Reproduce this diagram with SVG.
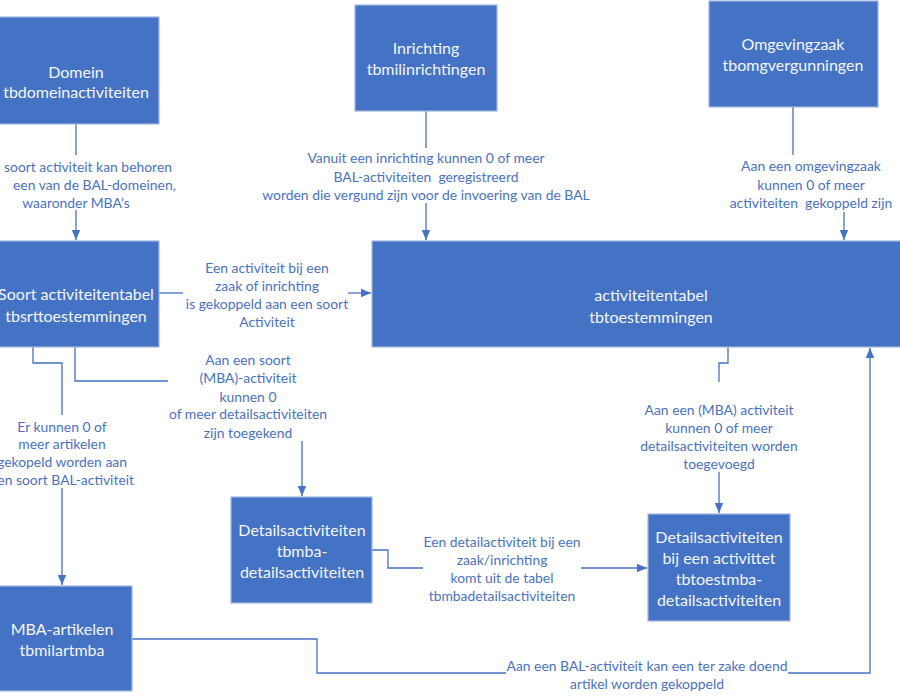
<svg xmlns="http://www.w3.org/2000/svg" width="900" height="700" viewBox="0 0 900 700">
<defs>
<marker id="arr" markerUnits="userSpaceOnUse" markerWidth="10" markerHeight="10" viewBox="0 0 10 10" refX="10" refY="5" orient="auto">
<path d="M0,0.8 L10,5 L0,9.2 Z" fill="#4472C4"/>
</marker>
<style>
.box{fill:#4472C4;stroke:#A3B6DD;stroke-width:1.2}
.bt{font-family:Lato,"Open Sans","Liberation Sans",sans-serif;font-size:16px;fill:#F4F6FB;text-anchor:middle;dominant-baseline:central}
.lt{font-family:Lato,"Open Sans","Liberation Sans",sans-serif;font-size:13.9px;fill:#4A72C2;text-anchor:middle;dominant-baseline:central;white-space:pre}
.ln{fill:none;stroke:#4472C4;stroke-width:1.3}
</style>
</defs>
<rect width="900" height="700" fill="#FFFFFF"/>

<g id="connectors">
<g id="c-domein-soort">
<path class="ln" d="M76,124 V155"/>
<path class="ln" d="M76,210 V240" marker-end="url(#arr)"/>
<text class="lt" x="4" y="166" style="text-anchor:start">soort activiteit kan behoren</text>
<text class="lt" x="13" y="184" style="text-anchor:start">een van de BAL-domeinen,</text>
<text class="lt" x="76" y="202">waaronder MBA’s</text>
</g>
<g id="c-inrichting-act">
<path class="ln" d="M426,111 V148"/>
<path class="ln" d="M426,203 V240" marker-end="url(#arr)"/>
<text class="lt" x="426" y="157">Vanuit een inrichting kunnen 0 of meer</text>
<text class="lt" x="426" y="176" xml:space="preserve">BAL-activiteiten  geregistreerd</text>
<text class="lt" x="426" y="194">worden die vergund zijn voor de invoering van de BAL</text>
</g>
<g id="c-omgeving-act">
<path class="ln" d="M793,107 V155"/>
<path class="ln" d="M844,212 V240" marker-end="url(#arr)"/>
<text class="lt" x="811" y="165">Aan een omgevingzaak</text>
<text class="lt" x="811" y="184">kunnen 0 of meer</text>
<text class="lt" x="811" y="202" xml:space="preserve">activiteiten  gekoppeld zijn</text>
</g>
<g id="c-soort-act">
<path class="ln" d="M159,293 H183"/>
<path class="ln" d="M348,293 H371" marker-end="url(#arr)"/>
<text class="lt" x="267" y="267">Een activiteit bij een</text>
<text class="lt" x="267" y="285">zaak of inrichting</text>
<text class="lt" x="267" y="303">is gekoppeld aan een soort</text>
<text class="lt" x="267" y="321">Activiteit</text>
</g>
<g id="c-soort-detail">
<path class="ln" d="M75,347 V381 H168"/>
<path class="ln" d="M302,441 V496" marker-end="url(#arr)"/>
<text class="lt" x="248" y="359">Aan een soort</text>
<text class="lt" x="248" y="377">(MBA)-activiteit</text>
<text class="lt" x="248" y="396">kunnen 0</text>
<text class="lt" x="248" y="413">of meer detailsactiviteiten</text>
<text class="lt" x="248" y="432">zijn toegekend</text>
</g>
<g id="c-soort-mba">
<path class="ln" d="M33,347 V363 H62 V415"/>
<path class="ln" d="M62,488 V585" marker-end="url(#arr)"/>
<text class="lt" x="62" y="426">Er kunnen 0 of</text>
<text class="lt" x="62" y="443">meer artikelen</text>
<text class="lt" x="62" y="461">gekopeld worden aan</text>
<text class="lt" x="62" y="479">een soort BAL-activiteit</text>
</g>
<g id="c-act-detailbij">
<path class="ln" d="M728,347 V363 H719 V382"/>
<path class="ln" d="M719,472 V513" marker-end="url(#arr)"/>
<text class="lt" x="719" y="409">Aan een (MBA) activiteit</text>
<text class="lt" x="719" y="427">kunnen 0 of meer</text>
<text class="lt" x="719" y="445">detailsactiviteiten worden</text>
<text class="lt" x="719" y="463">toegevoegd</text>
</g>
<g id="c-detail-detailbij">
<path class="ln" d="M372,550 H388 V568 H423"/>
<path class="ln" d="M581,568 H647" marker-end="url(#arr)"/>
<text class="lt" x="502" y="541">Een detailactiviteit bij een</text>
<text class="lt" x="502" y="559">zaak/inrichting</text>
<text class="lt" x="502" y="577">komt uit de tabel</text>
<text class="lt" x="502" y="595">tbmbadetailsactiviteiten</text>
</g>
<g id="c-mba-act">
<path class="ln" d="M132,639 H317 V673 H506"/>
<path class="ln" d="M788,673 H870 V348" marker-end="url(#arr)"/>
<text class="lt" x="647" y="665">Aan een BAL-activiteit kan een ter zake doend</text>
<text class="lt" x="647" y="683">artikel worden gekoppeld</text>
</g>
</g>

<g id="domein">
<rect class="box" x="-7" y="17" width="166" height="107"/>
<text class="bt" x="76" y="71">Domein</text>
<text class="bt" x="76" y="91">tbdomeinactiviteiten</text>
</g>
<g id="inrichting">
<rect class="box" x="355" y="5" width="142" height="106"/>
<text class="bt" x="426" y="47">Inrichting</text>
<text class="bt" x="426" y="68">tbmilinrichtingen</text>
</g>
<g id="omgevingzaak">
<rect class="box" x="709" y="1" width="169" height="106"/>
<text class="bt" x="793" y="43">Omgevingzaak</text>
<text class="bt" x="793" y="64">tbomgvergunningen</text>
</g>
<g id="soort">
<rect class="box" x="-7" y="241" width="166" height="106"/>
<text class="bt" x="76" y="293">Soort activiteitentabel</text>
<text class="bt" x="76" y="315">tbsrttoestemmingen</text>
</g>
<g id="activiteitentabel">
<rect class="box" x="372" y="241" width="560" height="106"/>
<text class="bt" x="651" y="294">activiteitentabel</text>
<text class="bt" x="651" y="316">tbtoestemmingen</text>
</g>
<g id="detailsactiviteiten">
<rect class="box" x="231" y="497" width="141" height="106"/>
<text class="bt" x="302" y="529">Detailsactiviteiten</text>
<text class="bt" x="302" y="550">tbmba-</text>
<text class="bt" x="302" y="571">detailsactiviteiten</text>
</g>
<g id="detailsbij">
<rect class="box" x="648" y="514" width="142" height="107"/>
<text class="bt" x="719" y="536">Detailsactiviteiten</text>
<text class="bt" x="719" y="557">bij een activittet</text>
<text class="bt" x="719" y="578">tbtoestmba-</text>
<text class="bt" x="719" y="599">detailsactiviteiten</text>
</g>
<g id="mba">
<rect class="box" x="-8" y="586" width="140" height="105"/>
<text class="bt" x="62" y="628">MBA-artikelen</text>
<text class="bt" x="62" y="649">tbmilartmba</text>
</g>
</svg>
